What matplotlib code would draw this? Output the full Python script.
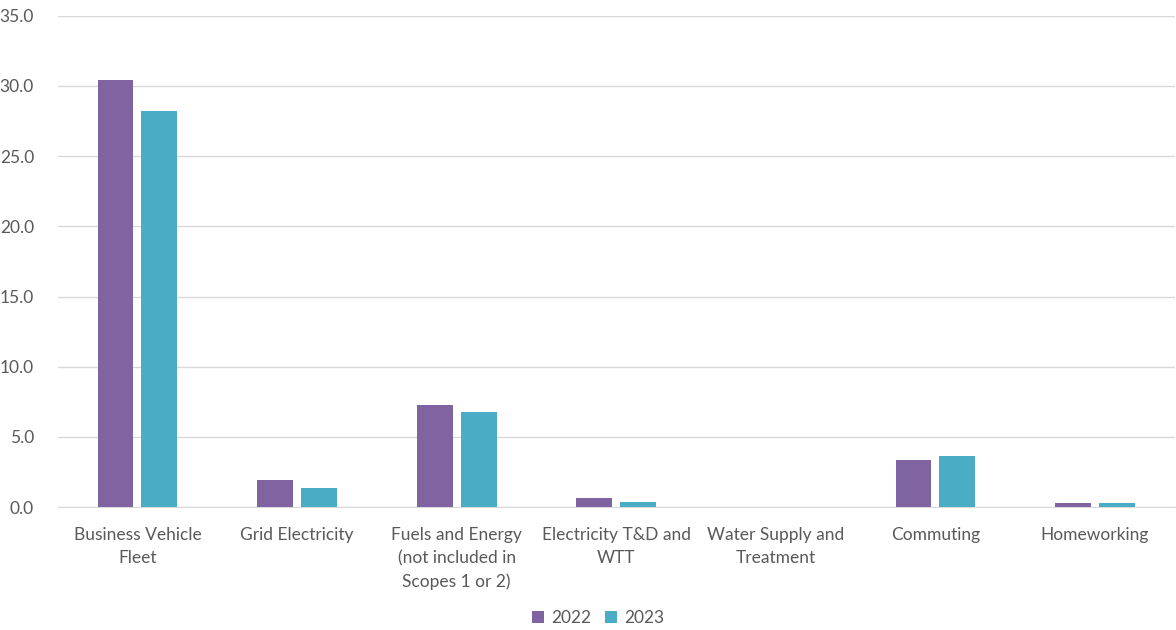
import matplotlib
matplotlib.use("Agg")
import matplotlib.pyplot as plt
import numpy as np

categories = ["Business Vehicle\nFleet", "Grid Electricity",
              "Fuels and Energy\n(not included in\nScopes 1 or 2)",
              "Electricity T&D and\nWTT", "Water Supply and\nTreatment",
              "Commuting", "Homeworking"]
values_2022 = [30.4, 1.95, 7.25, 0.65, 0.04, 3.38, 0.3]
values_2023 = [28.2, 1.38, 6.8, 0.38, 0.04, 3.65, 0.3]
years = ["2022", "2023"]

plt.rcParams['font.family'] = ['Lato', 'DejaVu Sans']

fig = plt.figure(figsize=(11.76, 6.3), dpi=100)
ax = fig.add_axes([0.049, 0.195, 0.95, 0.78])

x = np.arange(len(categories))
w = 0.225
gap = 0.05
ax.bar(x - (w + gap) / 2, values_2022, w, color="#8064A2", label=years[0], zorder=3)
ax.bar(x + (w + gap) / 2, values_2023, w, color="#4BACC6", label=years[1], zorder=3)

ax.set_xlim(-0.5, len(categories) - 0.5)
ax.set_ylim(0, 35)
ax.set_yticks(np.arange(0, 36, 5))
ax.set_yticklabels([f"{v:.1f}" for v in np.arange(0, 36, 5)])
ax.set_xticks(x)
ax.set_xticklabels(categories, linespacing=1.55)
ax.grid(axis="y", color="#D9D9D9", linewidth=1, zorder=0)
for s in ["top", "right", "left"]:
    ax.spines[s].set_visible(False)
ax.spines["bottom"].set_color("#D9D9D9")
ax.tick_params(axis="both", length=0, colors="#595959", labelsize=12.5)
ax.tick_params(axis="y", pad=17)
ax.tick_params(axis="x", pad=14)

ax.legend(loc="center", bbox_to_anchor=(0.484, -0.225), ncol=2, frameon=False,
          fontsize=12.5, labelcolor="#595959", handlelength=0.7, handleheight=0.7,
          handletextpad=0.4, columnspacing=0.8)

fig.savefig("out.png", dpi=100)
